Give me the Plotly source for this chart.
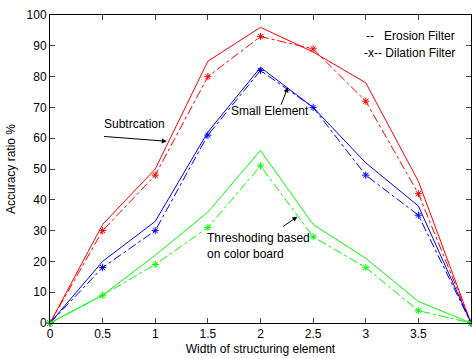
import plotly.graph_objects as go

widths = [0, 0.5, 1, 1.5, 2, 2.5, 3, 3.5, 4]
x_ticks = [0, 0.5, 1, 1.5, 2, 2.5, 3, 3.5, 4]
x_tick_labels = ["0", "0.5", "1", "1.5", "2", "2.5", "3", "3.5", "4"]
y_ticks = [0, 10, 20, 30, 40, 50, 60, 70, 80, 90, 100]

sub_erosion = [0, 32, 50, 85, 96, 88, 78, 46, 0]
sub_dilation = [0, 30, 48, 80, 93, 89, 72, 42, 0]
small_erosion = [0, 20, 33, 62, 83, 70, 52, 38, 0]
small_dilation = [0, 18, 30, 61, 82, 70, 48, 35, 0]
thr_erosion = [0, 9, 22, 36, 56, 32, 21, 7, 0]
thr_dilation = [0, 9, 19, 31, 51, 28, 18, 4, 0]

FONT = "Liberation Sans, Arial, sans-serif"
FS = 12

fig = go.Figure()

series = [
    (sub_erosion, sub_dilation, "#ff0000"),
    (small_erosion, small_dilation, "#0000ff"),
    (thr_erosion, thr_dilation, "#00ff00"),
]
for ero, dil, col in series:
    fig.add_trace(go.Scatter(x=widths, y=ero, mode="lines",
                             line=dict(color=col, width=1), showlegend=False,
                             cliponaxis=False))
    fig.add_trace(go.Scatter(x=widths, y=dil, mode="lines+markers",
                             line=dict(color=col, width=1, dash="dashdot"),
                             marker=dict(symbol="asterisk-open", size=6,
                                         line=dict(color=col, width=1)),
                             showlegend=False, cliponaxis=False))

ann_font = dict(family=FONT, size=FS, color="#000000")
annotations = [
    dict(x=0.80, y=64.5, text="Subtrcation", showarrow=False, font=ann_font),
    dict(x=1.11, y=59, ax=0.50, ay=60.6, axref="x", ayref="y", text="",
         showarrow=True, arrowhead=2, arrowsize=1, arrowwidth=1, arrowcolor="#000"),
    dict(x=2.09, y=68.7, text="Small Element", showarrow=False, font=ann_font),
    dict(x=2.26, y=76.5, ax=2.19, ay=70.4, axref="x", ayref="y", text="",
         showarrow=True, arrowhead=2, arrowsize=1, arrowwidth=1, arrowcolor="#000"),
    dict(x=1.47, y=25, text="Threshoding based<br>on color board", showarrow=False,
         xanchor="left", align="left", font=ann_font),
    dict(x=2.35, y=34.5, ax=2.20, ay=31, axref="x", ayref="y", text="",
         showarrow=True, arrowhead=2, arrowsize=1, arrowwidth=1, arrowcolor="#000"),
    dict(x=0.967, y=1 - (27 - 15) / 308, xref="x domain", yref="y domain",
         text="--   Erosion Filter", showarrow=False, xanchor="right", font=ann_font),
    dict(x=0.967, y=1 - (44 - 15) / 308, xref="x domain", yref="y domain",
         text="-x-- Dilation Filter", showarrow=False, xanchor="right", font=ann_font),
]

fig.update_layout(
    width=472, height=359,
    margin=dict(l=50, r=1, t=15, b=36),
    paper_bgcolor="white", plot_bgcolor="white",
    font=dict(family=FONT, size=FS, color="#000"),
    annotations=annotations,
    xaxis=dict(range=[0, 4], tickvals=x_ticks, ticktext=x_tick_labels,
               ticks="inside", ticklen=5, showline=True, linecolor="#000", linewidth=1,
               mirror="ticks", showgrid=False, zeroline=False,
               tickfont=dict(size=FS),
               title=dict(text="Width of structuring element", standoff=4,
                          font=dict(size=FS))),
    yaxis=dict(range=[0, 100], tickvals=y_ticks,
               ticks="inside", ticklen=5, showline=True, linecolor="#000", linewidth=1,
               mirror="ticks", showgrid=False, zeroline=False,
               tickfont=dict(size=FS),
               title=dict(text="Accuracy ratio %", standoff=8, font=dict(size=FS))),
)

fig.write_html(
    "out.html",
    config={"displayModeBar": False},
    post_script="document.body.style.margin='0';document.body.style.overflow='hidden';",
)
